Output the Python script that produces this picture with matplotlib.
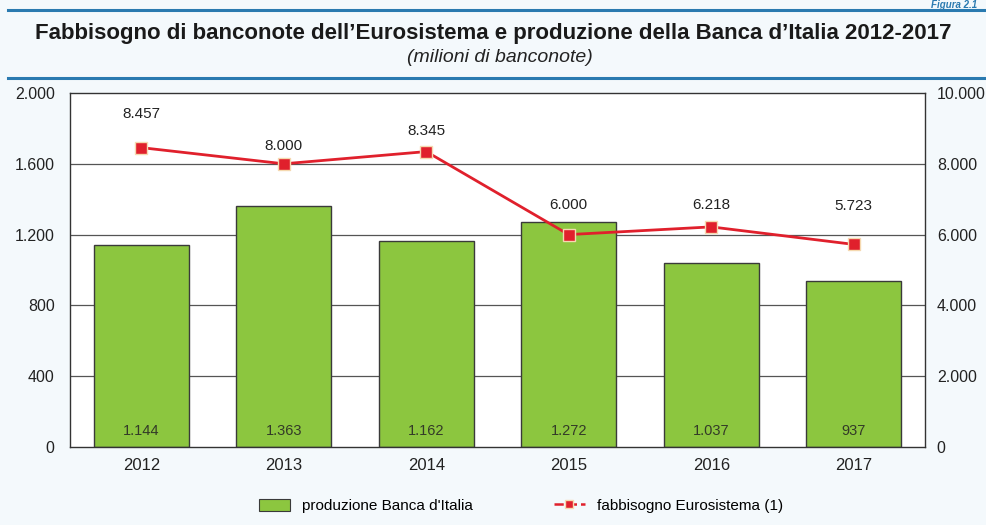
import matplotlib
matplotlib.use('Agg')
import numpy as np
from matplotlib import pyplot as plt
from matplotlib.lines import Line2D
from matplotlib.patches import Patch

plt.rcParams['font.family'] = ['Liberation Sans', 'DejaVu Sans']

# data
years = ['2012', '2013', '2014', '2015', '2016', '2017']
produzione = [1144, 1363, 1162, 1272, 1037, 937]
fabbisogno = [8457, 8000, 8345, 6000, 6218, 5723]
left_ticks = [0, 400, 800, 1200, 1600, 2000]
right_ticks = [0, 2000, 4000, 6000, 8000, 10000]

def it_fmt(v):
    return f'{v:,}'.replace(',', '.')

bg = '#f4f9fc'
blue = '#2a7ab0'
green = '#8cc63f'
red = '#e0202c'

fig = plt.figure(figsize=(9.87, 5.25), dpi=100, facecolor=bg)
ax = fig.add_axes([70/987, 1-447/525, 855/987, 354/525])
ax.set_facecolor('white')

x = np.arange(len(years))
ax.bar(x, produzione, width=0.67, color=green, edgecolor='#3a3a3a', linewidth=1.0, zorder=2)
for xi, v in zip(x, produzione):
    ax.text(xi, 50, it_fmt(v), ha='center', va='bottom', fontsize=10.5, color='#333a28', zorder=5)

ax.set_xlim(-0.5, len(years) - 0.5)
ax.set_ylim(0, 2000)
ax.set_yticks(left_ticks)
ax.set_yticklabels([it_fmt(t) for t in left_ticks])
ax.set_xticks(x)
ax.set_xticklabels(years)
ax.tick_params(axis='x', length=0, labelsize=12, colors='#222222', pad=8)
ax.tick_params(axis='y', length=0, labelsize=11.5, colors='#222222', pad=11)
for t in left_ticks[1:-1]:
    ax.axhline(t, color='#555555', linewidth=0.9, zorder=1)
for s in ax.spines.values():
    s.set_color('#333333')
    s.set_linewidth(1.0)

ax2 = ax.twinx()
ax2.set_ylim(0, 10000)
ax2.set_yticks(right_ticks)
ax2.set_yticklabels([it_fmt(t) for t in right_ticks])
ax2.tick_params(length=0, labelsize=11.5, colors='#222222', pad=8.5)
ax2.plot(x, fabbisogno, color=red, linewidth=2.0, marker='s', markersize=9,
         markerfacecolor=red, markeredgecolor='#f5d9b0', markeredgewidth=1.0, zorder=4)
label_offsets = [24.5, 13, 15, 21, 16, 27.4]
for xi, v, off in zip(x, fabbisogno, label_offsets):
    ax2.annotate(it_fmt(v), (xi, v), xytext=(0, off), textcoords='offset points',
                 ha='center', va='center', fontsize=11, color='#222222')
for s in ax2.spines.values():
    s.set_visible(False)

# header
fig.add_artist(Line2D([8/987, 1], [1-10/525]*2, color=blue, linewidth=2.2))
fig.add_artist(Line2D([8/987, 1], [1-78/525]*2, color=blue, linewidth=2.2))
fig.text(0.99, 1.0, 'Figura 2.1', ha='right', va='top', fontsize=7,
         fontweight='bold', style='italic', color=blue)
fig.text(0.5, 1-33/525, 'Fabbisogno di banconote dell\u2019Eurosistema e produzione della Banca d\u2019Italia 2012-2017',
         ha='center', va='center', fontsize=16, fontweight='bold', color='#1a1a1a')
fig.text(0.506, 1-57/525, '(milioni di banconote)', ha='center', va='center',
         fontsize=14, style='italic', color='#222222')

# legend
handles = [Patch(facecolor=green, edgecolor='#3a3a3a', linewidth=0.8),
           Line2D([0], [0], color=red, linestyle='--', linewidth=1.8, marker='s',
                  markersize=6, markerfacecolor=red, markeredgecolor='#f5d9b0')]
fig.legend(handles, ["produzione Banca d'Italia", 'fabbisogno Eurosistema (1)'],
           loc='center', bbox_to_anchor=(0.528, 1-506/525), ncol=2, frameon=False,
           fontsize=11, columnspacing=5.3, handlelength=2.0, handleheight=0.8)

fig.savefig('out.png', dpi=100, facecolor=bg)
